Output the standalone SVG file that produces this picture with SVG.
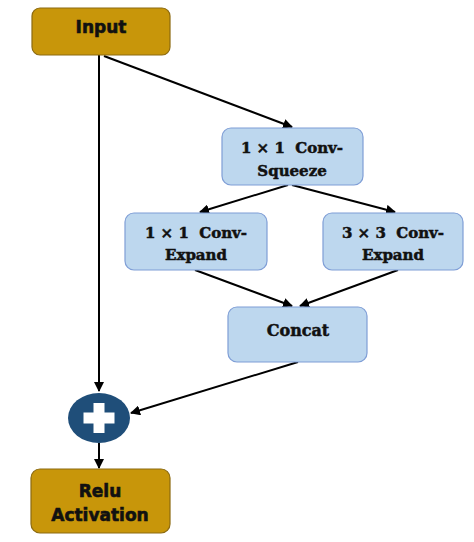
<svg xmlns="http://www.w3.org/2000/svg" width="474" height="542" viewBox="0 0 474 542">
<style>
.gold{fill:#C8960A;stroke:#8C6A10;stroke-width:1.2}
.blue{fill:#BDD7EE;stroke:#7F9ED6;stroke-width:1.2}
.ts{font-family:"DejaVu Sans",sans-serif;font-weight:bold;font-size:17px;fill:#111;stroke:#111;stroke-width:0.6;text-anchor:middle}
.tr{font-family:"DejaVu Serif",serif;font-weight:bold;font-size:15px;fill:#111;stroke:#111;stroke-width:0.5;text-anchor:middle;white-space:pre}
.ln{stroke:#000;stroke-width:2;fill:none;marker-end:url(#ah)}
</style>
<defs>
<marker id="ah" viewBox="0 0 10 10" refX="9" refY="5" markerWidth="5" markerHeight="5" orient="auto" markerUnits="strokeWidth">
<path d="M0,0 L10,5 L0,10 z" fill="#000"/>
</marker>
</defs>
<rect width="474" height="542" fill="#fff"/>
<g id="connectors">
<line class="ln" x1="99" y1="55" x2="99" y2="391"/>
<line class="ln" x1="104" y1="56" x2="292" y2="127"/>
<line class="ln" x1="288" y1="185" x2="200" y2="212"/>
<line class="ln" x1="292" y1="185" x2="395" y2="212"/>
<line class="ln" x1="195" y1="270" x2="292" y2="306"/>
<line class="ln" x1="398" y1="270" x2="300" y2="306"/>
<line class="ln" x1="298" y1="362" x2="131" y2="413"/>
<line class="ln" x1="99" y1="443" x2="99" y2="468"/>
</g>
<g id="input">
<rect class="gold" x="32" y="8" width="138" height="47" rx="8"/>
<text class="ts" x="101" y="33">Input</text>
</g>
<g id="squeeze">
<rect class="blue" x="222" y="128" width="141" height="57" rx="9"/>
<text class="tr" x="292" y="153" xml:space="preserve">1 × 1  Conv-</text>
<text class="tr" x="292" y="176">Squeeze</text>
</g>
<g id="expand1">
<rect class="blue" x="125" y="213" width="142" height="57" rx="9"/>
<text class="tr" x="196" y="238" xml:space="preserve">1 × 1  Conv-</text>
<text class="tr" x="196" y="260">Expand</text>
</g>
<g id="expand3">
<rect class="blue" x="323" y="213" width="140" height="57" rx="9"/>
<text class="tr" x="393" y="238" xml:space="preserve">3 × 3  Conv-</text>
<text class="tr" x="393" y="260">Expand</text>
</g>
<g id="concat">
<rect class="blue" x="228" y="307" width="139" height="55" rx="9"/>
<text class="tr" x="298" y="336" style="font-size:16px">Concat</text>
</g>
<g id="add">
<ellipse cx="99" cy="418" rx="31" ry="25" fill="#1F4E79"/>
<path d="M93.5,403 h11 v9.5 h10 v11 h-10 v9.5 h-11 v-9.5 h-10 v-11 h10 z" fill="#fff"/>
</g>
<g id="relu">
<rect class="gold" x="31" y="469" width="139" height="64" rx="9"/>
<text class="ts" x="100" y="497">Relu</text>
<text class="ts" x="100" y="521">Activation</text>
</g>
</svg>
